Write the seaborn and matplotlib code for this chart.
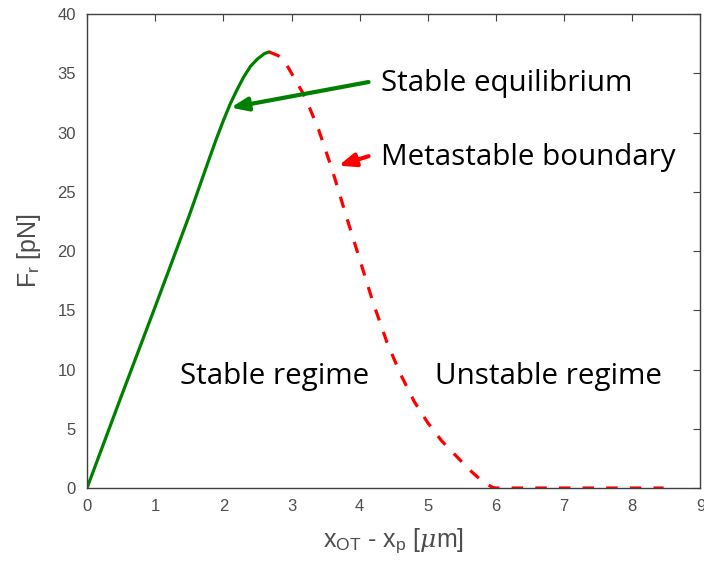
import numpy as np
import pandas as pd
import matplotlib
matplotlib.use("Agg")
import matplotlib.pyplot as plt
import seaborn as sns

# Stable branch (green, solid)
stable_x = [0.0, 0.5, 1.0, 1.5, 1.8, 1.9, 2.0, 2.1, 2.2, 2.3, 2.4, 2.5, 2.6, 2.67]
stable_f = [0.0, 7.7, 15.3, 23.0, 27.9, 29.5, 31.0, 32.4, 33.6, 34.7, 35.6, 36.2, 36.65, 36.8]

# Metastable boundary (red, dashed)
meta_x = [2.67, 2.8, 2.9, 3.0, 3.2, 3.4, 3.6, 3.8, 4.0, 4.2, 4.4, 4.6, 4.8, 5.0,
          5.2, 5.4, 5.6, 5.8, 5.95, 6.0, 6.5, 7.0, 7.5, 8.0, 8.46]
meta_f = [36.8, 36.5, 36.0, 35.0, 33.0, 30.2, 26.8, 23.0, 19.3, 15.6, 12.3, 9.6, 7.3, 5.5,
          4.0, 2.8, 1.6, 0.55, 0.05, 0.0, 0.0, 0.0, 0.0, 0.0, 0.0]

x_ticks = [0, 1, 2, 3, 4, 5, 6, 7, 8, 9]
y_ticks = [0, 5, 10, 15, 20, 25, 30, 35, 40]

sns.set_style("white")
plt.rcParams["font.family"] = ["Liberation Sans", "DejaVu Sans"]
plt.rcParams["mathtext.fontset"] = "custom"
plt.rcParams["mathtext.rm"] = "Liberation Sans"
plt.rcParams["mathtext.it"] = "DejaVu Serif:italic"

fig = plt.figure(figsize=(7.04, 5.67), dpi=100)
ax = fig.add_axes([0.1236, 0.1393, 0.8714, 0.836])

green = "#008000"
red = "#ff0000"

sns.lineplot(x=stable_x, y=stable_f, ax=ax, color=green, lw=2.3, sort=False,
             estimator=None)
sns.lineplot(x=meta_x, y=meta_f, ax=ax, color=red, lw=2.3, sort=False,
             estimator=None)
ax.lines[-1].set_dashes((3.6, 3.8))

ax.set_xlim(0, 9)
ax.set_ylim(0, 40)
ax.set_xticks(x_ticks)
ax.set_yticks(y_ticks)

axc = "#404040"
for s in ax.spines.values():
    s.set_color(axc)
    s.set_linewidth(1.0)
    s.set_visible(True)
ax.tick_params(direction="in", length=5, width=0.8, colors=axc, labelsize=12,
               top=True, right=True, labelcolor="#4d4d4d", pad=8)

ax.set_xlabel(r"x$_{\mathregular{OT}}$ - x$_{\mathregular{p}}$ [$\mu$m]",
              fontsize=18, color="#4d4d4d", labelpad=9)
ax.set_ylabel(r"F$_{\mathregular{r}}$ [pN]", fontsize=18, color="#4d4d4d", labelpad=10)

tfont = dict(family=["Open Sans", "DejaVu Sans"], fontsize=21.3, color="black")
ax.text(4.32, 34.15, "Stable equilibrium", va="center", ha="left", **tfont)
ax.text(4.32, 27.9, "Metastable boundary", va="center", ha="left", **tfont)
ax.text(1.36, 9.4, "Stable regime", va="center", ha="left", **tfont)
ax.text(5.11, 9.4, "Unstable regime", va="center", ha="left", **tfont)

ax.annotate("", xy=(2.11, 32.1), xytext=(4.13, 34.26),
            arrowprops=dict(arrowstyle="-|>,head_length=1.0,head_width=0.4",
                            color=green, lw=3, shrinkA=0, shrinkB=0))
ax.annotate("", xy=(3.69, 27.2), xytext=(4.13, 28.0),
            arrowprops=dict(arrowstyle="-|>,head_length=1.0,head_width=0.4",
                            color=red, lw=3, shrinkA=0, shrinkB=0))

fig.savefig("out.png", dpi=100)
